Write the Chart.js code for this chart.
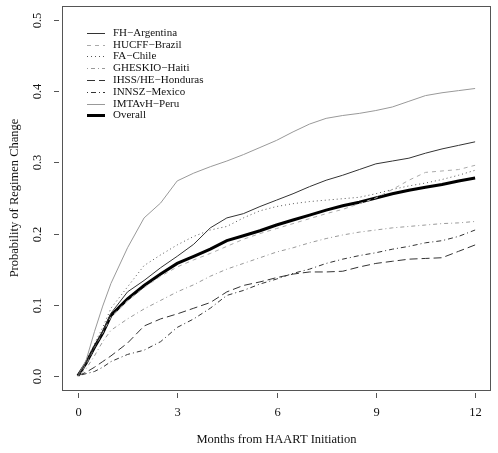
<!DOCTYPE html>
<html>
<head>
<meta charset="utf-8">
<script src="https://cdn.jsdelivr.net/npm/chart.js@4"></script>
<style>
  body { margin: 0; background: #fff; }
</style>
</head>
<body>
<canvas id="myChart" width="498" height="453"></canvas>
<script>
// months since start
const months = [0, 0.25, 0.5, 0.75, 1, 1.5, 2, 2.5, 3, 3.5, 4, 4.5, 5, 5.5, 6, 6.5, 7, 7.5, 8, 8.5, 9, 9.5, 10, 10.5, 11, 11.5, 12];

const argentina = [0, 0.018, 0.04, 0.062, 0.088, 0.118, 0.134, 0.152, 0.168, 0.185, 0.208, 0.222, 0.228, 0.238, 0.247, 0.256, 0.266, 0.275, 0.282, 0.29, 0.298, 0.302, 0.306, 0.313, 0.319, 0.324, 0.329];
const brazil = [0, 0.016, 0.04, 0.06, 0.083, 0.106, 0.124, 0.14, 0.153, 0.163, 0.172, 0.182, 0.192, 0.2, 0.207, 0.214, 0.221, 0.228, 0.234, 0.242, 0.25, 0.262, 0.275, 0.286, 0.288, 0.29, 0.296];
const chile = [0, 0.02, 0.045, 0.068, 0.095, 0.125, 0.155, 0.17, 0.184, 0.196, 0.205, 0.21, 0.222, 0.232, 0.238, 0.242, 0.245, 0.247, 0.249, 0.251, 0.256, 0.262, 0.267, 0.271, 0.276, 0.282, 0.289];
const haiti = [0, 0.01, 0.028, 0.048, 0.064, 0.08, 0.094, 0.106, 0.118, 0.128, 0.14, 0.15, 0.158, 0.166, 0.174, 0.18, 0.187, 0.193, 0.198, 0.202, 0.205, 0.208, 0.21, 0.212, 0.214, 0.215, 0.217];
const honduras = [0, 0.005, 0.012, 0.02, 0.028, 0.046, 0.07, 0.08, 0.087, 0.095, 0.103, 0.118, 0.127, 0.132, 0.138, 0.143, 0.146, 0.146, 0.147, 0.153, 0.158, 0.161, 0.164, 0.165, 0.166, 0.175, 0.184];
const mexico = [0, 0.003, 0.006, 0.012, 0.02, 0.03, 0.036, 0.048, 0.068, 0.08, 0.095, 0.113, 0.12, 0.129, 0.136, 0.144, 0.15, 0.158, 0.164, 0.169, 0.173, 0.178, 0.182, 0.187, 0.19, 0.196, 0.205];
const peru = [0, 0.022, 0.062, 0.098, 0.13, 0.18, 0.222, 0.243, 0.274, 0.285, 0.294, 0.302, 0.311, 0.321, 0.331, 0.343, 0.354, 0.362, 0.366, 0.369, 0.373, 0.378, 0.386, 0.394, 0.398, 0.401, 0.404];
const overall = [0, 0.018, 0.04, 0.06, 0.085, 0.108, 0.127, 0.143, 0.158, 0.168, 0.178, 0.19, 0.197, 0.204, 0.212, 0.219, 0.226, 0.233, 0.239, 0.244, 0.25, 0.256, 0.261, 0.265, 0.269, 0.274, 0.278];

const xTicks = [0, 3, 6, 9, 12];
const yTicks = [0, 0.1, 0.2, 0.3, 0.4, 0.5];
const xTitle = 'Months from HAART Initiation';
const yTitle = 'Probability of Regimen Change';

function pts(vals) {
    return months.map((m, i) => ({ x: m, y: vals[i] }));
}

const series = [
    { label: 'FH\u2212Argentina', data: argentina, color: '#333', width: 1, dash: [] },
    { label: 'HUCFF\u2212Brazil', data: brazil, color: '#aaa', width: 1, dash: [4, 4] },
    { label: 'FA\u2212Chile', data: chile, color: '#555', width: 1, dash: [1, 3] },
    { label: 'GHESKIO\u2212Haiti', data: haiti, color: '#999', width: 1, dash: [1, 3, 4, 3] },
    { label: 'IHSS/HE\u2212Honduras', data: honduras, color: '#333', width: 1, dash: [8, 4] },
    { label: 'INNSZ\u2212Mexico', data: mexico, color: '#333', width: 1, dash: [1, 3, 5, 3] },
    { label: 'IMTAvH\u2212Peru', data: peru, color: '#999', width: 1, dash: [] },
    { label: 'Overall', data: overall, color: '#000', width: 3, dash: [] }
];

const FONT = '"Liberation Serif", "DejaVu Serif", serif';

// box, ticks, labels and legend, R style
const rFrame = {
    id: 'rFrame',
    afterDraw(chart) {
        const ctx = chart.ctx;
        const a = chart.chartArea;
        const xs = chart.scales.x, ys = chart.scales.y;
        ctx.save();
        ctx.strokeStyle = '#555';
        ctx.lineWidth = 1;
        ctx.setLineDash([]);
        ctx.strokeRect(a.left + 0.5, a.top + 0.5, a.right - a.left - 1, a.bottom - a.top);

        ctx.fillStyle = '#111';
        ctx.font = '12.5px ' + FONT;
        ctx.textAlign = 'center';
        ctx.textBaseline = 'middle';
        xTicks.forEach(t => {
            const px = Math.round(xs.getPixelForValue(t)) + 0.5;
            ctx.beginPath();
            ctx.moveTo(px, a.bottom + 3);
            ctx.lineTo(px, a.bottom + 8);
            ctx.stroke();
            ctx.fillText(String(t), px, a.bottom + 23);
        });
        yTicks.forEach(t => {
            const py = Math.round(ys.getPixelForValue(t)) + 0.5;
            ctx.beginPath();
            ctx.moveTo(a.left - 3, py);
            ctx.lineTo(a.left - 8, py);
            ctx.stroke();
            ctx.save();
            ctx.translate(a.left - 24, py);
            ctx.rotate(-Math.PI / 2);
            ctx.fillText(t.toFixed(1), 0, 0);
            ctx.restore();
        });

        ctx.fillText(xTitle, (a.left + a.right) / 2, 440);
        ctx.save();
        ctx.translate(15, (a.top + a.bottom) / 2);
        ctx.rotate(-Math.PI / 2);
        ctx.fillText(yTitle, 0, 0);
        ctx.restore();

        // legend
        ctx.font = '11px ' + FONT;
        ctx.textAlign = 'left';
        series.forEach((s, i) => {
            const y = Math.round(32.7 + i * 11.8) + 0.5;
            ctx.strokeStyle = s.color;
            ctx.lineWidth = s.width;
            ctx.setLineDash(s.dash);
            ctx.beginPath();
            ctx.moveTo(87, y);
            ctx.lineTo(105, y);
            ctx.stroke();
            ctx.fillStyle = '#111';
            ctx.fillText(s.label, 113, y);
        });
        ctx.restore();
    }
};

new Chart('myChart', {
    type: 'line',
    data: {
        datasets: series.map(s => ({
            label: s.label,
            data: pts(s.data),
            borderColor: s.color,
            borderWidth: s.width,
            borderDash: s.dash,
            tension: 0,
            pointRadius: 0,
            fill: false
        }))
    },
    options: {
        responsive: false,
        animation: false,
        layout: { padding: { left: 62, right: 7, top: 6, bottom: 63 } },
        plugins: { legend: { display: false }, tooltip: { enabled: false } },
        scales: {
            x: { type: 'linear', min: -0.48, max: 12.48, display: false },
            y: { type: 'linear', min: -0.02, max: 0.52, display: false }
        }
    },
    plugins: [rFrame]
});
</script>
</body>
</html>
